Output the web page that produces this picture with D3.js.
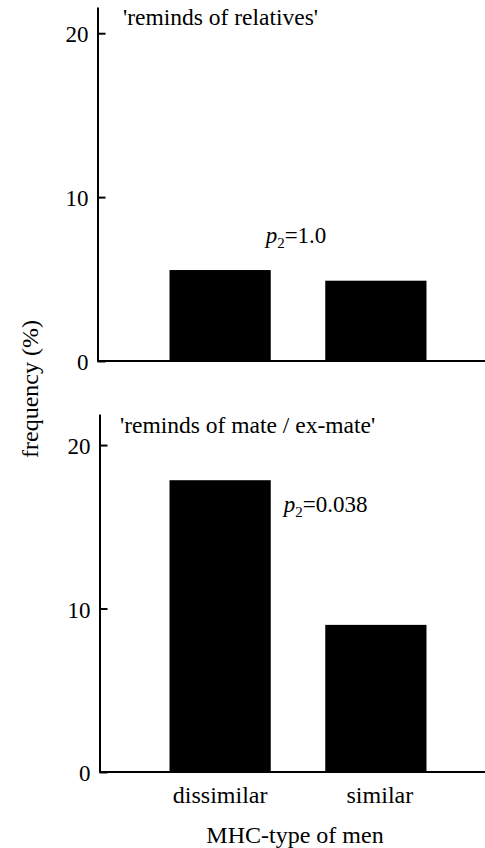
<!DOCTYPE html>
<html>
<head>
<meta charset="utf-8">
<script src="https://cdn.jsdelivr.net/npm/d3@7"></script>
<style>
  body { margin: 0; background: #fff; }
</style>
</head>
<body>
<div class="chart-container"></div>
<script>
// --------------------------------------------------------
// DATA
// --------------------------------------------------------
const categories = ["dissimilar", "similar"];
const relativesValues = [5.55, 4.9];
const mateValues = [17.85, 9.0];
const yTicks = [0, 10, 20];
const panelTitles = ["'reminds of relatives'", "'reminds of mate / ex-mate'"];
const pLabels = ["1.0", "0.038"];

// --------------------------------------------------------
// VARIABLES
// --------------------------------------------------------
const width = 485;
const height = 848;
const fontSize = 23;
const serif = "'Liberation Serif', 'Times New Roman', serif";

const svg = d3
  .select(".chart-container")
  .append("svg")
  .attr("width", width)
  .attr("height", height)
  .style("font-family", serif);

// shared x scale for the two panels
const x = d3
  .scaleBand()
  .domain(categories)
  .range([115, 481])
  .paddingInner(0.35)
  .paddingOuter(0.35);

// panel layout: axis x, bottom (value 0), top of axis
const panels = [
  { values: relativesValues, title: panelTitles[0], p: pLabels[0], axisX: 97.5, y0: 361, y1: 7, yMax: 21.6, titleX: 123, titleY: 25 },
  { values: mateValues, title: panelTitles[1], p: pLabels[1], axisX: 99.5, y0: 772, y1: 414, yMax: 21.9, titleX: 120, titleY: 433 },
];

panels.forEach((panel, i) => {
  const y = d3.scaleLinear().domain([0, panel.yMax]).range([panel.y0, panel.y1]);
  const g = svg.append("g");

  // bars
  g.selectAll("rect")
    .data(categories)
    .join("rect")
    .attr("x", (d) => x(d))
    .attr("width", x.bandwidth())
    .attr("y", (d, j) => y(panel.values[j]))
    .attr("height", (d, j) => y(0) - y(panel.values[j]))
    .attr("fill", "#000");

  // baseline
  g.append("line")
    .attr("x1", panel.axisX)
    .attr("x2", width)
    .attr("y1", y(0))
    .attr("y2", y(0))
    .attr("stroke", "#000")
    .attr("stroke-width", 2);

  // y axis, ticks point inwards
  const axis = g
    .append("g")
    .attr("transform", `translate(${panel.axisX},0)`)
    .call(
      d3.axisLeft(y).tickValues(yTicks).tickSizeInner(-8).tickSizeOuter(0).tickPadding(9)
    );
  axis.select(".domain").attr("stroke", "#000").attr("stroke-width", 2);
  axis.selectAll(".tick line").attr("stroke", "#000").attr("stroke-width", 2);
  axis
    .selectAll(".tick text")
    .style("font-family", serif)
    .style("font-size", fontSize + "px")
    .attr("fill", "#000")
    .attr("dy", "0.38em");

  // panel title
  g.append("text")
    .attr("x", panel.titleX)
    .attr("y", panel.titleY)
    .attr("font-size", fontSize + 0.5)
    .attr("fill", "#000")
    .text(panel.title);

  // p value label
  let px, py, anchor;
  if (i === 0) {
    px = (x(categories[0]) + x(categories[1]) + x.bandwidth()) / 2 - 2;
    py = y(7.2);
    anchor = "middle";
  } else {
    px = x(categories[0]) + x.bandwidth() + 13;
    py = y(15.9);
    anchor = "start";
  }
  const pt = g
    .append("text")
    .attr("x", px)
    .attr("y", py)
    .attr("font-size", fontSize)
    .attr("fill", "#000")
    .attr("text-anchor", anchor);
  pt.append("tspan").attr("font-style", "italic").text("p");
  pt.append("tspan").attr("font-size", 15).attr("dy", 5).text("2");
  pt.append("tspan").attr("dy", -5).text("=" + panel.p);

  // category labels under the bottom panel
  if (i === 1) {
    g.selectAll(".cat")
      .data(categories)
      .join("text")
      .attr("class", "cat")
      .attr("x", (d) => x(d) + x.bandwidth() / 2 + (d === "similar" ? 4 : 0))
      .attr("y", 803)
      .attr("text-anchor", "middle")
      .attr("font-size", fontSize + 1)
      .attr("fill", "#000")
      .text((d) => d);
  }
});

// axis titles
svg
  .append("text")
  .attr("x", 295)
  .attr("y", 843)
  .attr("text-anchor", "middle")
  .attr("font-size", fontSize + 1)
  .attr("fill", "#000")
  .text("MHC-type of men");

svg
  .append("text")
  .attr("transform", "translate(38,389) rotate(-90)")
  .attr("text-anchor", "middle")
  .attr("font-size", fontSize + 1)
  .attr("fill", "#000")
  .text("frequency (%)");
</script>
</body>
</html>
